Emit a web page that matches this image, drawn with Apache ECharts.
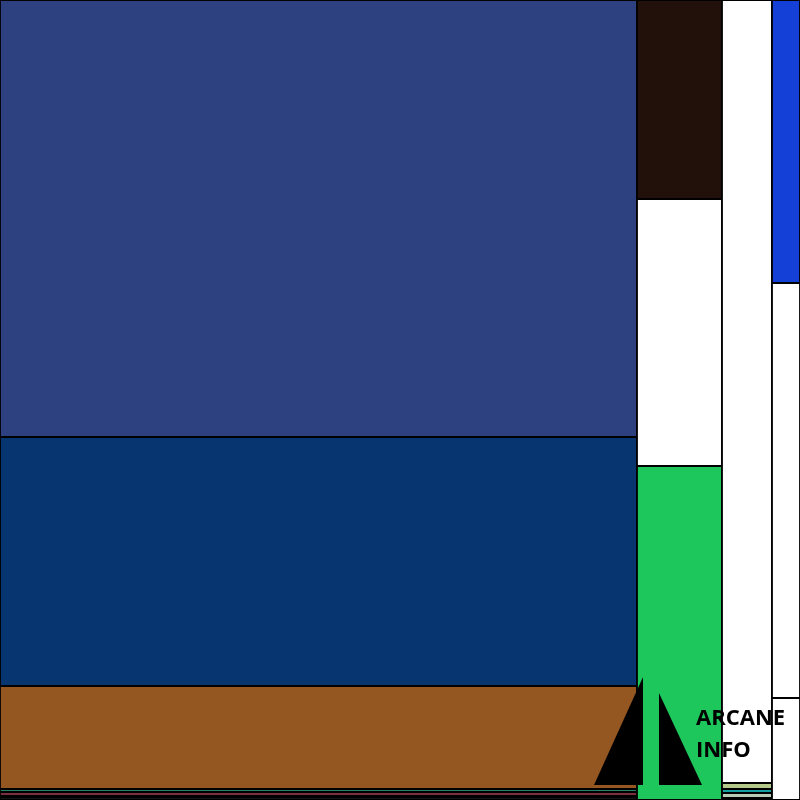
<!DOCTYPE html>
<html>
<head>
<meta charset="utf-8">
<script src="https://cdn.jsdelivr.net/npm/echarts@6/dist/echarts.min.js"></script>
<style>html,body{margin:0;padding:0;background:#fff}#c{width:800px;height:800px}</style>
</head>
<body>
<div id="c"></div>
<script>
// Column (group) sizes
const groupNames = ['G1', 'G2', 'G3', 'G4'];
const groupSizes = [637, 85, 50, 28];
// Segment values within each group (top to bottom)
const g1Values = [437, 249, 103, 3, 4, 1.5, 2.5];
const g2Values = [199, 267, 334];
const g3Values = [783, 6, 4, 5, 2];
const g4Values = [283, 415, 102];
// Segment colours
const g1Colors = ['#2d4080', '#063570', '#955722', '#23846a', '#7a2e3e', '#3a3a5a', '#2a2a2a'];
const g2Colors = ['#22110a', '#ffffff', '#1dc75c'];
const g3Colors = ['#ffffff', '#b4c98a', '#15a0a0', '#b8cbb4', '#444444'];
const g4Colors = ['#1440d8', '#ffffff', '#ffffff'];

const groupValues = [g1Values, g2Values, g3Values, g4Values];
const groupColors = [g1Colors, g2Colors, g3Colors, g4Colors];

const totalX = groupSizes.reduce((a, b) => a + b, 0);
const data = [];
let x0 = 0;
groupSizes.forEach((w, i) => {
  const vals = groupValues[i];
  const tot = vals.reduce((a, b) => a + b, 0);
  let y0 = 0;
  vals.forEach((v, j) => {
    const y1 = y0 + v / tot * 100;
    data.push({ value: [x0, x0 + w, y0, y1], itemStyle: { color: groupColors[i][j] }, name: groupNames[i] + '-' + j });
    y0 = y1;
  });
  x0 += w;
});

const chart = echarts.init(document.getElementById('c'));
chart.setOption({
  animation: false,
  grid: { left: 0, right: 0, top: 0, bottom: 0 },
  xAxis: { type: 'value', min: 0, max: totalX, show: false },
  yAxis: { type: 'value', min: 0, max: 100, inverse: true, show: false },
  series: [{
    type: 'custom',
    data: data,
    encode: { x: [0, 1], y: [2, 3] },
    renderItem: function (params, api) {
      const p0 = api.coord([api.value(0), api.value(2)]);
      const p1 = api.coord([api.value(1), api.value(3)]);
      return {
        type: 'rect',
        shape: { x: p0[0], y: p0[1], width: p1[0] - p0[0], height: p1[1] - p0[1] },
        style: { fill: api.visual('color'), stroke: '#000', lineWidth: 1.8 }
      };
    }
  }],
  graphic: [
    { type: 'polygon', z: 100, shape: { points: [[594, 785], [643, 785], [643, 677]] }, style: { fill: '#000' } },
    { type: 'polygon', z: 100, shape: { points: [[659, 693], [659, 785], [702, 785]] }, style: { fill: '#000' } },
    { type: 'text', z: 100, style: { text: 'ARCANE', x: 696, y: 719, fill: '#000', font: 'bold 22px "Open Sans"', verticalAlign: 'middle' } },
    { type: 'text', z: 100, style: { text: 'INFO', x: 696, y: 750.5, fill: '#000', font: 'bold 22px "Open Sans"', verticalAlign: 'middle' } }
  ]
});
</script>
</body>
</html>
